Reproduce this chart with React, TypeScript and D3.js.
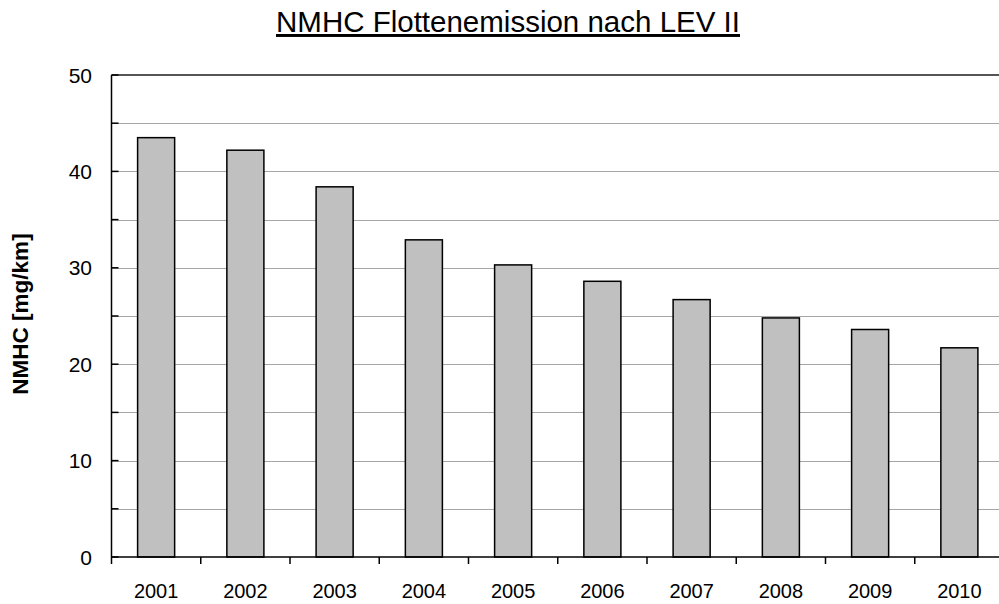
import * as d3 from 'd3';
import { useEffect, useRef } from 'react';

const years = ['2001', '2002', '2003', '2004', '2005', '2006', '2007', '2008', '2009', '2010'];
const nmhc = [43.5, 42.2, 38.4, 32.9, 30.3, 28.6, 26.7, 24.8, 23.6, 21.7];
const yTicks = [0, 10, 20, 30, 40, 50];
const gridValues = [5, 10, 15, 20, 25, 30, 35, 40, 45];

const App: React.FC = () => {
  const ref = useRef<null | SVGSVGElement>(null);

  useEffect(() => {
    const width = 999;
    const height = 604;
    const left = 111.5;
    const right = 1004;
    const top = 75;
    const bottom = 557;
    const font = 'Liberation Sans, Arial, sans-serif';

    const svg = d3.select(ref.current);
    svg.selectAll('*').remove();
    svg.attr('width', width).attr('height', height);

    const x = d3.scaleBand().domain(years).range([left, right]).paddingInner(0.585).paddingOuter(0.2925);
    const xEdge = d3.scaleLinear().domain([0, years.length]).range([left, right]);
    const y = d3.scaleLinear().domain([0, 50]).range([bottom, top]);

    // gridlines
    svg
      .append('g')
      .selectAll('line')
      .data(gridValues)
      .join('line')
      .attr('x1', left)
      .attr('x2', right)
      .attr('y1', (d) => Math.round(y(d)) + 0.5)
      .attr('y2', (d) => Math.round(y(d)) + 0.5)
      .attr('stroke', '#a6a6a6')
      .attr('stroke-width', 1);

    // top border
    svg
      .append('line')
      .attr('x1', left)
      .attr('x2', right)
      .attr('y1', y(50))
      .attr('y2', y(50))
      .attr('stroke', '#555')
      .attr('stroke-width', 2);

    // bars
    svg
      .append('g')
      .selectAll('rect')
      .data(nmhc)
      .join('rect')
      .attr('x', (_, i) => x(years[i])!)
      .attr('y', (d) => y(d))
      .attr('width', x.bandwidth())
      .attr('height', (d) => bottom - y(d))
      .attr('fill', '#c0c0c0')
      .attr('stroke', '#000')
      .attr('stroke-width', 1.5);

    // y axis
    const yAxis = svg.append('g');
    yAxis
      .append('line')
      .attr('x1', left)
      .attr('x2', left)
      .attr('y1', top)
      .attr('y2', bottom)
      .attr('stroke', '#000')
      .attr('stroke-width', 1.5);
    yAxis
      .selectAll('line.tick')
      .data(d3.range(0, 55, 5))
      .join('line')
      .attr('class', 'tick')
      .attr('x1', left)
      .attr('x2', left + 7)
      .attr('y1', (d) => y(d))
      .attr('y2', (d) => y(d))
      .attr('stroke', '#000')
      .attr('stroke-width', 1.5);
    yAxis
      .selectAll('text')
      .data(yTicks)
      .join('text')
      .attr('x', 92)
      .attr('y', (d) => y(d) + 7.5)
      .attr('text-anchor', 'end')
      .attr('font-family', font)
      .attr('font-size', 21)
      .text((d) => d);

    // x axis
    const xAxis = svg.append('g');
    xAxis
      .append('line')
      .attr('x1', left)
      .attr('x2', right)
      .attr('y1', bottom)
      .attr('y2', bottom)
      .attr('stroke', '#000')
      .attr('stroke-width', 1.5);
    xAxis
      .selectAll('line.tick')
      .data(d3.range(0, years.length + 1))
      .join('line')
      .attr('class', 'tick')
      .attr('x1', (d) => xEdge(d))
      .attr('x2', (d) => xEdge(d))
      .attr('y1', bottom)
      .attr('y2', bottom + 7)
      .attr('stroke', '#000')
      .attr('stroke-width', 1.5);
    xAxis
      .selectAll('text')
      .data(years)
      .join('text')
      .attr('x', (d) => x(d)! + x.bandwidth() / 2)
      .attr('y', 598)
      .attr('text-anchor', 'middle')
      .attr('font-family', font)
      .attr('font-size', 20)
      .text((d) => d);

    // y label
    svg
      .append('text')
      .attr('transform', 'translate(28,314) rotate(-90)')
      .attr('text-anchor', 'middle')
      .attr('font-family', font)
      .attr('font-size', 22.5)
      .attr('font-weight', 'bold')
      .text('NMHC [mg/km]');

    // title
    svg
      .append('text')
      .attr('x', 508)
      .attr('y', 32)
      .attr('text-anchor', 'middle')
      .attr('font-family', font)
      .attr('font-size', 29.5)
      .attr('text-decoration', 'underline')
      .text('NMHC Flottenemission nach LEV II');
  }, []);

  return (
    <div style={{ position: 'absolute', left: 0, top: 0 }}>
      <svg ref={ref} style={{ display: 'block' }} />
    </div>
  );
};

export default App;
